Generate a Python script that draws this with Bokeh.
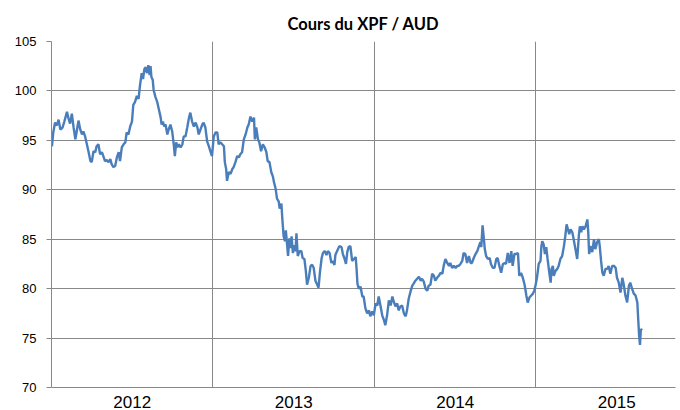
from bokeh.plotting import figure
from bokeh.models import FixedTicker, Range1d
from bokeh.embed import file_html
from bokeh.resources import INLINE

title_text = "Cours du XPF / AUD"
start_year = 2012
year_labels = ["2012", "2013", "2014", "2015"]
y_ticks = [70, 75, 80, 85, 90, 95, 100, 105]

# days elapsed since 2012-01-01
days = [1, 4, 8, 12, 16, 20, 25, 29, 35, 38, 42, 46, 50, 54, 57, 61, 65, 69, 72, 76,
        80, 84, 88, 91, 95, 99, 102, 106, 110, 114, 118, 121, 125, 129, 133, 136, 140, 144, 148, 152,
        155, 159, 163, 167, 170, 174, 178, 182, 185, 189, 193, 197, 200, 204, 207, 210, 213, 216, 219, 222,
        224, 226, 229, 231, 235, 239, 243, 247, 249, 252, 255, 258, 262, 265, 269, 273, 277, 279, 282, 285,
        288, 292, 296, 299, 303, 307, 311, 314, 318, 322, 326, 330, 333, 337, 341, 344, 348, 352, 356, 360,
        363, 367, 371, 375, 378, 382, 386, 390, 392, 395, 397, 401, 405, 409, 412, 416, 420, 424, 427, 431,
        435, 439, 443, 446, 450, 454, 458, 460, 463, 467, 470, 474, 478, 482, 486, 489, 493, 497, 501, 503,
        507, 510, 514, 516, 520, 522, 524, 525, 528, 530, 533, 535, 538, 541, 543, 546, 548, 552, 554, 557,
        561, 565, 568, 572, 575, 578, 582, 586, 590, 593, 597, 601, 604, 607, 611, 614, 618, 622, 625, 629,
        633, 636, 640, 642, 646, 651, 656, 659, 663, 666, 669, 672, 676, 680, 684, 688, 690, 692, 695, 699,
        703, 706, 710, 714, 718, 721, 725, 729, 733, 737, 740, 744, 748, 752, 755, 759, 763, 767, 771, 774,
        778, 782, 785, 789, 793, 797, 801, 804, 808, 812, 816, 819, 823, 827, 831, 835, 838, 842, 846, 850,
        853, 857, 861, 865, 868, 872, 876, 880, 884, 887, 891, 895, 899, 902, 906, 910, 914, 918, 921, 925,
        929, 932, 936, 940, 944, 948, 951, 955, 959, 963, 966, 970, 972, 975, 978, 980, 983, 987, 991, 994,
        998, 1002, 1006, 1009, 1013, 1017, 1021, 1025, 1028, 1032, 1036, 1040, 1043, 1047, 1051, 1055, 1058, 1062, 1066, 1070,
        1074, 1077, 1081, 1085, 1089, 1092, 1095, 1098, 1102, 1106, 1108, 1110, 1113, 1116, 1119, 1122, 1126, 1129, 1131, 1134,
        1136, 1140, 1144, 1147, 1151, 1155, 1159, 1162, 1165, 1168, 1171, 1174, 1178, 1181, 1185, 1189, 1193, 1195, 1198, 1201,
        1204, 1208, 1212, 1214, 1216, 1219, 1223, 1227, 1230, 1234, 1238, 1240, 1243, 1246, 1249, 1253, 1257, 1260, 1264, 1268,
        1272, 1276, 1279, 1283, 1287, 1291, 1294, 1298, 1302, 1306, 1309, 1313, 1317, 1321, 1325, 1327, 1329, 1331, 1333, 1336]

# XPF per AUD
rate = [94.4, 95.8, 96.8, 96.5, 97.1, 96.1, 96.3, 96.9, 97.9, 97.3, 96.7, 97.7, 96.3, 95.1, 95.9, 97.0, 96.1, 95.6, 95.9, 95.4,
        94.6, 93.8, 92.9, 92.8, 93.9, 93.8, 94.4, 94.6, 93.6, 93.8, 93.3, 92.9, 93.0, 92.8, 93.1, 92.6, 92.3, 92.4, 93.3, 93.8,
        92.9, 94.3, 94.6, 94.8, 95.8, 95.6, 96.4, 96.9, 98.6, 98.9, 99.5, 99.2, 100.5, 101.8, 101.2, 102.2, 102.4, 101.8, 102.6, 101.6,
        102.5, 101.4, 101.1, 100.1, 99.4, 98.9, 98.1, 97.3, 96.6, 96.9, 96.4, 96.6, 95.6, 96.1, 96.6, 95.9, 94.4, 93.4, 94.8, 94.3,
        94.6, 94.3, 94.6, 95.4, 95.4, 96.3, 97.3, 97.8, 96.9, 96.4, 96.8, 96.3, 95.6, 96.1, 96.6, 96.8, 96.3, 94.9, 94.4, 93.8,
        93.4, 95.4, 95.8, 95.8, 94.6, 94.8, 94.6, 94.4, 92.8, 92.1, 90.9, 91.8, 91.6, 92.1, 92.3, 92.8, 93.4, 93.3, 93.6, 93.8,
        95.1, 95.6, 96.3, 96.6, 97.4, 96.9, 97.3, 95.1, 96.3, 95.1, 94.8, 93.9, 94.6, 94.3, 93.8, 92.9, 92.8, 91.8, 91.3, 90.8,
        90.1, 89.1, 88.8, 88.1, 88.6, 87.1, 85.9, 85.3, 84.8, 85.9, 84.4, 83.3, 85.1, 84.1, 85.3, 83.6, 84.4, 83.8, 85.6, 83.3,
        83.8, 83.8, 83.1, 83.0, 81.9, 80.4, 81.1, 82.3, 82.4, 82.1, 80.8, 80.4, 80.1, 81.6, 83.1, 83.6, 83.8, 83.4, 83.8, 83.6,
        82.6, 82.8, 82.4, 83.4, 83.8, 84.3, 84.2, 83.5, 83.0, 82.5, 83.7, 84.2, 84.3, 82.8, 83.0, 83.2, 82.0, 80.5, 80.0, 80.2,
        79.2, 79.2, 78.0, 77.5, 77.8, 77.2, 77.7, 77.3, 78.5, 78.3, 79.2, 78.3, 77.3, 76.8, 76.3, 77.3, 78.8, 78.3, 79.2, 78.7,
        78.2, 78.5, 77.8, 78.2, 78.3, 77.5, 77.2, 77.8, 79.0, 79.7, 80.3, 80.5, 80.8, 81.0, 81.2, 80.8, 81.0, 80.7, 80.0, 79.8,
        80.3, 80.4, 81.5, 81.3, 80.8, 81.1, 81.3, 81.6, 81.5, 82.3, 83.0, 82.6, 82.3, 82.6, 82.1, 82.3, 82.1, 82.3, 82.3, 82.5,
        82.8, 83.6, 83.5, 82.6, 83.3, 82.6, 82.6, 83.1, 83.5, 83.8, 84.2, 84.7, 84.2, 86.4, 85.0, 84.0, 83.3, 83.0, 83.1, 82.5,
        82.1, 82.1, 83.0, 83.1, 82.3, 81.6, 82.5, 82.6, 82.5, 83.6, 82.6, 83.8, 82.3, 83.5, 83.5, 83.6, 81.3, 81.6, 81.1, 80.4,
        79.3, 78.6, 79.1, 79.3, 79.5, 79.8, 80.4, 81.1, 82.5, 82.8, 84.3, 84.8, 84.5, 83.5, 84.2, 83.0, 81.6, 80.6, 82.0, 82.3,
        81.3, 81.8, 82.0, 82.3, 83.0, 83.3, 84.3, 85.3, 86.5, 86.0, 85.5, 86.0, 85.7, 85.0, 84.0, 83.0, 85.5, 86.3, 85.7, 86.3,
        86.0, 86.3, 87.0, 85.7, 83.5, 84.3, 83.7, 85.0, 84.0, 84.7, 85.0, 84.3, 82.8, 81.6, 81.3, 82.0, 82.0, 82.3, 81.5, 82.3,
        82.3, 82.1, 81.1, 80.6, 79.6, 81.1, 80.5, 79.3, 78.6, 80.3, 80.6, 80.0, 79.5, 79.3, 78.6, 76.9, 75.3, 74.3, 75.9, 75.8]

x = [start_year + d / 365.25 for d in days]

grid_color = "#888888"

p = figure(width=676, height=410, output_backend="svg", toolbar_location=None,
           x_range=Range1d(start_year, start_year + 3.864), y_range=Range1d(y_ticks[0], y_ticks[-1]),
           min_border_left=51, min_border_right=1, min_border_top=41, min_border_bottom=23)

p.title.text = title_text
p.title.align = "center"
p.title.text_font = "Lato"
p.title.text_font_style = "bold"
p.title.text_font_size = "16.5px"
p.title.text_color = "#000000"
p.title.offset = 17
p.title.standoff = 16

p.outline_line_color = None
p.background_fill_color = "white"
p.border_fill_color = "white"

p.line(x, rate, line_color="#4A7EBB", line_width=2.4)

# x axis: year labels centred in each year, grid at year boundaries
mid_ticks = [int(l) + 0.5 for l in year_labels]
p.xaxis.ticker = FixedTicker(ticks=mid_ticks)
p.xaxis.major_label_overrides = {t: l for t, l in zip(mid_ticks, year_labels)}
p.xaxis.major_tick_out = 0
p.xaxis.major_tick_in = 0
p.xaxis.minor_tick_out = 0
p.xaxis.minor_tick_in = 0
p.xaxis.axis_line_color = grid_color
p.xaxis.major_label_text_font = "Liberation Sans"
p.xaxis.major_label_text_font_size = "17px"
p.xaxis.major_label_text_color = "#000000"
p.xaxis.major_label_standoff = 8
p.xgrid.ticker = FixedTicker(ticks=[int(l) for l in year_labels[1:]])
p.xgrid.grid_line_color = grid_color

p.yaxis.ticker = FixedTicker(ticks=y_ticks)
p.yaxis.major_tick_out = 5
p.yaxis.major_tick_in = 0
p.yaxis.minor_tick_out = 0
p.yaxis.minor_tick_in = 0
p.yaxis.axis_line_color = grid_color
p.yaxis.major_tick_line_color = grid_color
p.yaxis.major_label_text_font = "Liberation Sans"
p.yaxis.major_label_text_font_size = "13px"
p.yaxis.major_label_text_color = "#000000"
p.yaxis.major_label_standoff = 10
p.ygrid.grid_line_color = grid_color

open("out.html", "w").write(file_html(p, INLINE))
